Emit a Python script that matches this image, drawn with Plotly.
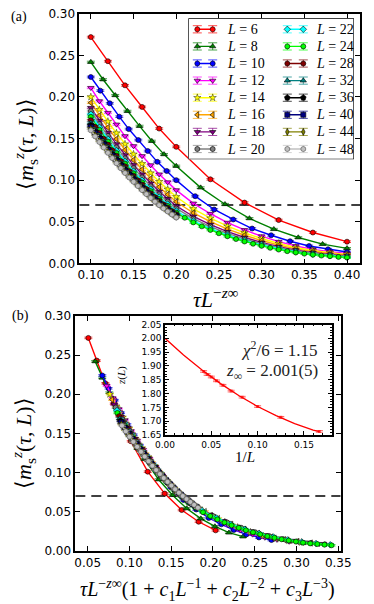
import plotly.graph_objects as go

# ---------------- data ----------------
L_LIST = [6, 8, 10, 12, 14, 16, 18, 20, 22, 24, 28, 32, 36, 40, 44, 48]
COLORS = ['#ff0000', '#008000', '#0000ff', '#ff00ff', '#ffff00', '#ffa500', '#800080', '#808080',
          '#00ffff', '#00ff00', '#800000', '#008080', '#000000', '#000080', '#808000', '#c0c0c0']
SYMBOLS = ['circle', 'triangle-up', 'circle', 'triangle-down', 'star', 'triangle-left', 'triangle-down', 'circle',
           'diamond', 'circle', 'circle', 'triangle-up', 'pentagon', 'square', 'diamond-tall', 'circle']

X6 = [0.10, 0.12, 0.14, 0.16, 0.18, 0.20, 0.24, 0.28, 0.32, 0.36, 0.40]
Y6 = [0.272, 0.243, 0.214, 0.188, 0.162, 0.140, 0.101, 0.073, 0.052, 0.037, 0.026]

X8 = [0.1, 0.1143, 0.1286, 0.1429, 0.1571, 0.1714, 0.1857, 0.2, 0.2286, 0.2571, 0.2857, 0.3143, 0.3429, 0.3714, 0.4]
Y8 = [0.242, 0.221, 0.202, 0.183, 0.165, 0.147, 0.131, 0.117, 0.091, 0.071, 0.054, 0.041, 0.031, 0.023, 0.018]

X10 = [0.1, 0.1111, 0.1222, 0.1333, 0.1444, 0.1556, 0.1667, 0.1778, 0.1889, 0.2,
       0.2222, 0.2444, 0.2667, 0.2889, 0.3111, 0.3333, 0.3556, 0.3778, 0.4]
Y10 = [0.224, 0.2076, 0.1924, 0.1763, 0.1614, 0.1482, 0.135, 0.122, 0.111, 0.100,
       0.0807, 0.0647, 0.0527, 0.0418, 0.0337, 0.0265, 0.0208, 0.0169, 0.0136]

X_MID = [0.10, 0.11, 0.12, 0.13, 0.14, 0.15, 0.16, 0.17, 0.18, 0.19, 0.20,
         0.22, 0.24, 0.26, 0.28, 0.30, 0.32, 0.34, 0.36, 0.38, 0.40]
Y12 = [0.211, 0.195, 0.181, 0.167, 0.153, 0.141, 0.129, 0.118, 0.107, 0.0975, 0.088,
       0.072, 0.0596, 0.0489, 0.0401, 0.0326, 0.026, 0.0208, 0.0168, 0.0141, 0.0117]
Y14 = [0.200, 0.1847, 0.1705, 0.1566, 0.1433, 0.1312, 0.1197, 0.1085, 0.0982, 0.089, 0.080,
       0.0655, 0.0543, 0.0446, 0.0366, 0.0298, 0.0238, 0.019, 0.0154, 0.0129, 0.0107]
Y16 = [0.1931, 0.1776, 0.1633, 0.1494, 0.1362, 0.1242, 0.1128, 0.1017, 0.0917, 0.0827, 0.074,
       0.0605, 0.050, 0.0411, 0.0337, 0.0274, 0.0218, 0.0174, 0.0141, 0.0118, 0.0098]
Y18 = [0.187, 0.1715, 0.1572, 0.1433, 0.1301, 0.1182, 0.107, 0.0961, 0.0863, 0.0775, 0.069,
       0.0563, 0.0464, 0.038, 0.031, 0.0251, 0.020, 0.0159, 0.0128, 0.0107, 0.0088]
Y20 = [0.183, 0.1675, 0.1532, 0.1394, 0.1263, 0.1145, 0.1034, 0.0926, 0.083, 0.0743, 0.066,
       0.0536, 0.0441, 0.036, 0.0293, 0.0236, 0.0187, 0.0148, 0.0119, 0.0099, 0.0082]
Y22 = [0.1792, 0.1636, 0.1494, 0.1356, 0.1226, 0.1108, 0.0998, 0.0892, 0.0797, 0.0712, 0.063,
       0.051, 0.0418, 0.0339, 0.0275, 0.0221, 0.0175, 0.0138, 0.011, 0.0091, 0.0075]

X24 = [0.10, 0.11, 0.12, 0.13, 0.14, 0.15, 0.16, 0.17, 0.18, 0.19, 0.20,
       0.21, 0.22, 0.23, 0.24, 0.25, 0.26, 0.27, 0.28, 0.29, 0.30,
       0.31, 0.32, 0.33, 0.34, 0.35, 0.36, 0.37, 0.38, 0.39, 0.40]
Y24 = [0.1761, 0.1606, 0.1464, 0.1327, 0.1199, 0.1082, 0.0973, 0.0868, 0.0774, 0.069, 0.061,
       0.0548, 0.0492, 0.0444, 0.0401, 0.0361, 0.0325, 0.0292, 0.0262, 0.0235, 0.021,
       0.0186, 0.0165, 0.0146, 0.013, 0.0116, 0.0103, 0.0093, 0.0085, 0.0077, 0.0069]

X_LARGE = [0.100, 0.105, 0.110, 0.115, 0.120, 0.125, 0.130, 0.135, 0.140, 0.145, 0.150,
           0.155, 0.160, 0.165, 0.170, 0.175, 0.180, 0.185, 0.190, 0.195, 0.200]
Y28 = [0.172, 0.1641, 0.1568, 0.1497, 0.1428, 0.1359, 0.1293, 0.1229, 0.1167, 0.1108, 0.1052,
       0.0998, 0.0946, 0.0893, 0.0843, 0.0796, 0.0751, 0.0709, 0.0669, 0.0628, 0.059]
Y32 = [0.1689, 0.1611, 0.154, 0.147, 0.1402, 0.1335, 0.127, 0.1207, 0.1146, 0.1089, 0.1034,
       0.098, 0.0929, 0.0877, 0.0828, 0.0782, 0.0738, 0.0696, 0.0657, 0.0618, 0.058]
Y36 = [0.166, 0.1584, 0.1513, 0.1444, 0.1378, 0.1312, 0.1248, 0.1187, 0.1127, 0.107, 0.1016,
       0.0963, 0.0913, 0.0862, 0.0814, 0.0768, 0.0725, 0.0684, 0.0646, 0.0607, 0.057]
Y40 = [0.164, 0.1565, 0.1495, 0.1427, 0.1362, 0.1297, 0.1234, 0.1173, 0.1114, 0.1058, 0.1005,
       0.0953, 0.0903, 0.0854, 0.0806, 0.0761, 0.0718, 0.0678, 0.064, 0.0601, 0.0565]
Y44 = [0.162, 0.1546, 0.1477, 0.141, 0.1346, 0.1282, 0.122, 0.116, 0.1102, 0.1047, 0.0994,
       0.0943, 0.0894, 0.0845, 0.0798, 0.0753, 0.0711, 0.0672, 0.0634, 0.0596, 0.056]
Y48 = [0.1599, 0.1526, 0.1458, 0.1392, 0.1328, 0.1265, 0.1203, 0.1144, 0.1086, 0.1031, 0.098,
       0.0929, 0.088, 0.0832, 0.0785, 0.0741, 0.0699, 0.066, 0.0623, 0.0586, 0.055]

# correction factor (1 + c1/L + c2/L^2 + c3/L^3) per L, used on the lower panel's x axis
FAC = [0.508, 0.59, 0.675, 0.728, 0.765, 0.793, 0.818, 0.835, 0.851, 0.855,
       0.877, 0.885, 0.893, 0.898, 0.903, 0.910]
ERR = 0.001  # size of the (tiny) error bars on <m_s^z>

# inset: z(L) against 1/L, and the fitted curve
INV_L = [0.0417, 0.0455, 0.05, 0.0556, 0.0625, 0.0714, 0.0833, 0.1, 0.125, 0.1667]
Z_L = [1.880, 1.869, 1.860, 1.846, 1.830, 1.809, 1.787, 1.753, 1.714, 1.663]
Z_ERR = 0.003
FIT_X = [0.0, 0.02, 0.04, 0.06, 0.08, 0.10, 0.12, 0.14, 0.16, 0.1667]
FIT_Z = [2.000, 1.940, 1.885, 1.836, 1.792, 1.753, 1.720, 1.691, 1.668, 1.662]

DASH_Y = 0.07
X_TICKS_A = [0.10, 0.15, 0.20, 0.25, 0.30, 0.35, 0.40]
X_TICKS_B = [0.05, 0.10, 0.15, 0.20, 0.25, 0.30, 0.35]
Y_TICKS = [0.00, 0.05, 0.10, 0.15, 0.20, 0.25, 0.30]
INS_X_TICKS = [0.00, 0.05, 0.10, 0.15]
INS_Y_TICKS = [1.65, 1.70, 1.75, 1.80, 1.85, 1.90, 1.95, 2.00, 2.05]

SERIES = {
    6: (X6, Y6), 8: (X8, Y8), 10: (X10, Y10), 12: (X_MID, Y12), 14: (X_MID, Y14),
    16: (X_MID, Y16), 18: (X_MID, Y18), 20: (X_MID, Y20), 22: (X_MID, Y22), 24: (X24, Y24),
    28: (X_LARGE, Y28), 32: (X_LARGE, Y32), 36: (X_LARGE, Y36), 40: (X_LARGE, Y40),
    44: (X_LARGE, Y44), 48: (X_LARGE, Y48),
}

# ---------------- helpers ----------------
def rgba(h, a):
    h = h.lstrip('#')
    return 'rgba(%d,%d,%d,%.2f)' % (int(h[0:2], 16), int(h[2:4], 16), int(h[4:6], 16), a)

# the page body keeps an 8px margin, so the figure starts 8px in from the window's corner
W, H, OFF = 366, 596, 8
def px(x):
    return (x - OFF) / W
def py(y):
    return 1 - (y - OFF) / H

SANS = 'DejaVu Sans'
SERIF = 'Liberation Serif'

def marker_style(i, L):
    sym = SYMBOLS[i]
    size = {'star': 5.5, 'pentagon': 6}.get(sym, 5.5 if 'triangle' in sym else 5)
    edge = '#505050' if L == 48 else 'black'
    ew = 0.4 if sym == 'star' else 0.6
    return dict(symbol=sym, size=size, color=COLORS[i], line=dict(color=edge, width=ew))

fig = go.Figure()

for i, L in enumerate(L_LIST):
    xs, ys = SERIES[L]
    col = COLORS[i]
    common = dict(
        mode='lines+markers',
        line=dict(color=col, width=1.4),
        marker=marker_style(i, L),
        error_y=dict(type='constant', value=ERR, width=4, thickness=1, color=rgba(col, 0.7)),
        showlegend=False, hoverinfo='skip',
    )
    fig.add_trace(go.Scatter(x=xs, y=ys, xaxis='x', yaxis='y', **common))
    fig.add_trace(go.Scatter(x=[v * FAC[i] for v in xs], y=ys, xaxis='x2', yaxis='y2', **common))

# inset
fig.add_trace(go.Scatter(x=FIT_X, y=FIT_Z, xaxis='x3', yaxis='y3', mode='lines',
                         line=dict(color='#ff0000', width=1.3), showlegend=False, hoverinfo='skip'))
fig.add_trace(go.Scatter(x=INV_L, y=Z_L, xaxis='x3', yaxis='y3', mode='markers',
                         marker=dict(symbol='square', size=3, color=rgba('#ff0000', 0.6)),
                         error_y=dict(type='constant', value=Z_ERR, width=3.5, thickness=1,
                                      color=rgba('#ff0000', 0.6)),
                         showlegend=False, hoverinfo='skip'))

# ---------------- hand-made legend (two columns) ----------------
LEG_W, LEG_H = 165.7, 141.0
fig.add_trace(go.Scatter(x=[0, LEG_W, LEG_W, 0, 0], y=[0, 0, LEG_H, LEG_H, 0], xaxis='x4', yaxis='y4',
                         mode='lines', fill='toself', fillcolor='white',
                         line=dict(color='black', width=1.3), showlegend=False, hoverinfo='skip'))
ROW0, ROW_STEP = 11.0, 17.1
COL_MARK = [(9.0, 24.4), (99.0, 115.0)]
COL_TEXT = [37.0, 126.0]
annotations = []
for i, L in enumerate(L_LIST):
    c, r = divmod(i, 8)
    yy = ROW0 + ROW_STEP * r
    col = COLORS[i]
    fig.add_trace(go.Scatter(
        x=list(COL_MARK[c]), y=[yy, yy], xaxis='x4', yaxis='y4', mode='lines+markers',
        line=dict(color=col, width=1.4),
        marker=marker_style(i, L),
        error_y=dict(type='constant', value=3.6, width=4.5, thickness=1, color=rgba(col, 0.7)),
        showlegend=False, hoverinfo='skip'))
    annotations.append(dict(x=COL_TEXT[c], y=yy, xref='x4', yref='y4', xanchor='left', yanchor='middle',
                            text='<i>L</i> = %d' % L, showarrow=False,
                            font=dict(family=SERIF, size=14, color='black')))

# ---------------- axes ----------------
def main_axis(domain, rng, tickvals, anchor):
    return dict(domain=domain, range=rng, anchor=anchor, tickvals=tickvals, automargin=False,
                ticktext=['%.2f' % v for v in tickvals], ticks='inside', ticklen=5, tickwidth=1,
                tickcolor='black', showline=True, linecolor='black', linewidth=1.5, mirror='allticks',
                showgrid=False, zeroline=False, ticklabeloverflow='allow',
                tickfont=dict(family=SANS, size=12, color='black'))

layout = dict(
    width=W, height=H, margin=dict(l=0, r=0, t=0, b=0, pad=0, autoexpand=False),
    paper_bgcolor='white', plot_bgcolor='white', showlegend=False,
    xaxis=main_axis([px(79.3), px(360)], [0.0865, 0.4152], X_TICKS_A, 'y'),
    yaxis=main_axis([py(263.3), py(13.8)], [0.0, 0.30], Y_TICKS, 'x'),
    xaxis2=main_axis([px(75.3), px(340.7)], [0.0352, 0.3529], X_TICKS_B, 'y2'),
    yaxis2=main_axis([py(550.7), py(316)], [0.0, 0.30], Y_TICKS, 'x2'),
)
ins_x = main_axis([px(165), px(331.7)], [0.0, 0.18], INS_X_TICKS, 'y3')
ins_x.update(ticklen=4, tickfont=dict(family=SANS, size=9, color='black'),
             minor=dict(dtick=0.01, ticklen=2, ticks='inside', tickcolor='black'))
ins_y = main_axis([py(435), py(324.5)], [1.65, 2.05], INS_Y_TICKS, 'x3')
ins_y.update(ticklen=4, tickfont=dict(family=SANS, size=9, color='black'),
             minor=dict(dtick=0.01, ticklen=2, ticks='inside', tickcolor='black'))
layout['xaxis3'] = ins_x
layout['yaxis3'] = ins_y
layout['xaxis4'] = dict(domain=[px(188.3), px(354)], range=[0, LEG_W], anchor='y4', visible=False,
                        fixedrange=True, automargin=False)
layout['yaxis4'] = dict(domain=[py(159.3), py(18.3)], range=[LEG_H, 0], anchor='x4', visible=False,
                        fixedrange=True, automargin=False)

shapes = [
    dict(type='line', xref='x', yref='y', x0=0.0865, x1=0.4152, y0=DASH_Y, y1=DASH_Y,
         line=dict(color='black', width=1.5, dash='10px,6px'), layer='below'),
    dict(type='line', xref='x2', yref='y2', x0=0.0352, x1=0.3529, y0=DASH_Y, y1=DASH_Y,
         line=dict(color='black', width=1.5, dash='10px,6px'), layer='below'),
]

def note(x, y, text, size, angle=0, xanchor='center', color='black'):
    return dict(x=px(x), y=py(y), xref='paper', yref='paper', text=text, textangle=angle,
                xanchor=xanchor, yanchor='middle', showarrow=False,
                font=dict(family=SERIF, size=size, color=color))

ylab = '\u27e8<i>m</i><sub>s</sub><sup><i>z</i></sup>(<i>\u03c4</i>, <i>L</i>)\u27e9'
xlab_a = '<i>\u03c4L</i><sup>\u2212<i>z</i>\u221e</sup>'
xlab_b = ('<i>\u03c4L</i><sup>\u2212<i>z</i>\u221e</sup>(1 + <i>c</i><sub>1</sub><i>L</i><sup>\u22121</sup>'
          ' + <i>c</i><sub>2</sub><i>L</i><sup>\u22122</sup> + <i>c</i><sub>3</sub><i>L</i><sup>\u22123</sup>)')
annotations += [
    note(19, 17, '(a)', 14),
    note(20, 316, '(b)', 14),
    note(25, 144, ylab, 22, angle=-90),
    note(23, 443, ylab, 22, angle=-90),
    note(216, 298, xlab_a, 22),
    note(207, 590, xlab_b, 20),
    note(121, 376, '<i>z</i>(<i>L</i>)', 11, angle=-90),
    note(245, 457, '1/<i>L</i>', 15),
    note(320, 348.5, '<i>\u03c7</i><sup>2</sup>/6 = 1.15', 17, xanchor='right', color='#222222'),
    note(320, 371.5, '<i>z</i><sub>\u221e</sub> = 2.001(5)', 17, xanchor='right', color='#222222'),
]
layout['shapes'] = shapes
layout['annotations'] = annotations
fig.update_layout(**layout)

fig.write_html('out.html')
